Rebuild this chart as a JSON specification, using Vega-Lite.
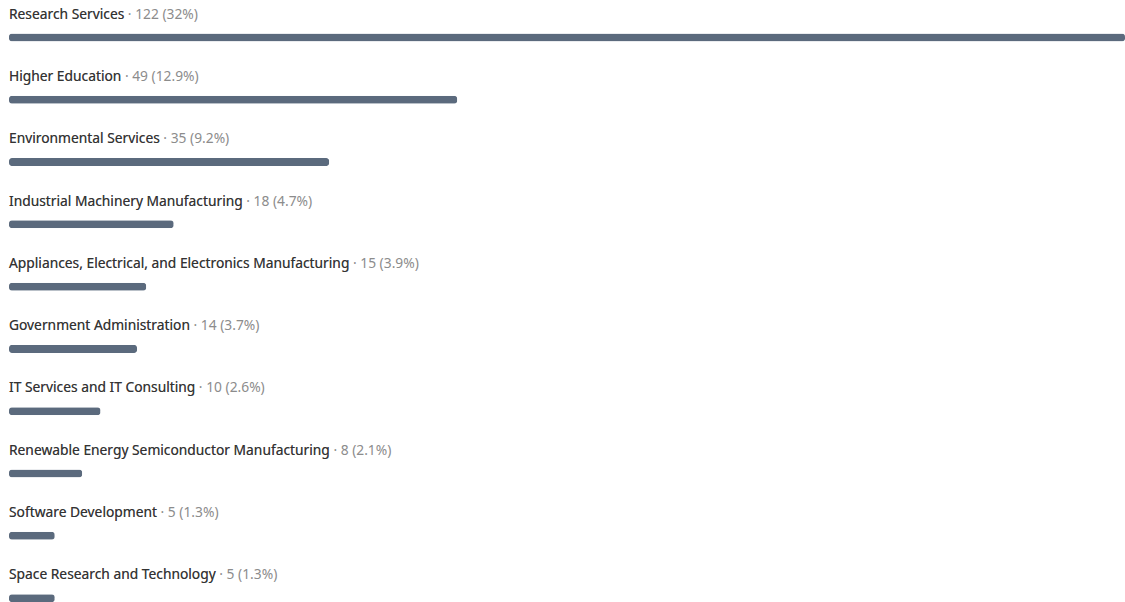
{
  "$schema": "https://vega.github.io/schema/vega-lite/v6.json",
  "width": 1116,
  "height": 602,
  "padding": {"left": 9, "top": 0, "right": 0, "bottom": 0},
  "autosize": {"type": "pad"},
  "background": "white",
  "config": {"view": {"stroke": null}},
  "data": {
    "values": [
      {"name": "Research Services", "count": 122, "pct": "32%"},
      {"name": "Higher Education", "count": 49, "pct": "12.9%"},
      {"name": "Environmental Services", "count": 35, "pct": "9.2%"},
      {"name": "Industrial Machinery Manufacturing", "count": 18, "pct": "4.7%"},
      {"name": "Appliances, Electrical, and Electronics Manufacturing", "count": 15, "pct": "3.9%"},
      {"name": "Government Administration", "count": 14, "pct": "3.7%"},
      {"name": "IT Services and IT Consulting", "count": 10, "pct": "2.6%"},
      {"name": "Renewable Energy Semiconductor Manufacturing", "count": 8, "pct": "2.1%"},
      {"name": "Software Development", "count": 5, "pct": "1.3%"},
      {"name": "Space Research and Technology", "count": 5, "pct": "1.3%"}
    ]
  },
  "transform": [
    {"calculate": "datum.name + ' · ' + datum.count + ' (' + datum.pct + ')'", "as": "label"}
  ],
  "encoding": {
    "y": {
      "field": "name",
      "type": "nominal",
      "sort": null,
      "axis": null,
      "scale": {"range": [0, 623], "paddingInner": 0, "paddingOuter": 0}
    }
  },
  "layer": [
    {
      "mark": {"type": "bar", "size": 8, "cornerRadius": 3, "color": "#5b6a7d", "yOffset": 6.3},
      "encoding": {
        "x": {"field": "count", "type": "quantitative", "axis": null, "scale": {"domain": [0, 122], "nice": false}}
      }
    },
    {
      "mark": {"type": "text", "align": "left", "baseline": "alphabetic", "dy": -12.5, "font": "Noto Sans", "fontSize": 13.8, "color": "#8c8c8c"},
      "encoding": {
        "x": {"value": 0},
        "text": {"field": "label"}
      }
    },
    {
      "mark": {"type": "text", "align": "left", "baseline": "alphabetic", "dy": -12.5, "font": "Noto Sans", "fontSize": 13.8, "color": "#333333"},
      "encoding": {
        "x": {"value": 0},
        "text": {"field": "name"}
      }
    }
  ]
}
